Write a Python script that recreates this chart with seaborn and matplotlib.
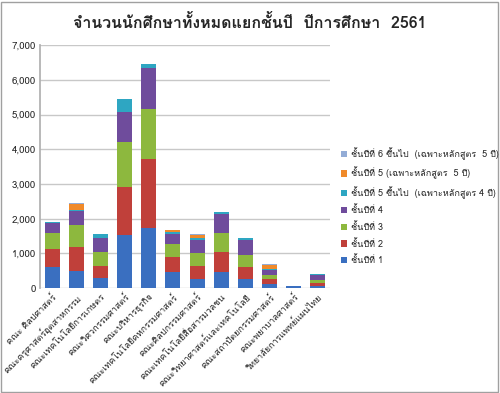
import matplotlib
matplotlib.use("Agg")
import matplotlib.pyplot as plt
from matplotlib import font_manager
from matplotlib.ft2font import FT2Font
from matplotlib.patches import Rectangle
import seaborn as sns
import pandas as pd
import numpy as np

categories = [
    "คณะ ศิลปศาสตร์",
    "คณะครุศาสตร์อุตสาหกรรม",
    "คณะเทคโนโลยีการเกษตร",
    "คณะวิศวกรรมศาสตร์",
    "คณะบริหารธุรกิจ",
    "คณะเทคโนโลยีคหกรรมศาสตร์",
    "คณะศิลปกรรมศาสตร์",
    "คณะเทคโนโลยีสื่อสารมวลชน",
    "คณะวิทยาศาสตร์และเทคโนโลยี",
    "คณะสถาปัตยกรรมศาสตร์",
    "คณะพยาบาลศาสตร์",
    "วิทยาลัยการแพทย์แผนไทย",
]

series_names = [
    "ชั้นปีที่ 1",
    "ชั้นปีที่ 2",
    "ชั้นปีที่ 3",
    "ชั้นปีที่ 4",
    "ชั้นปีที่ 5 ขึ้นไป  (เฉพาะหลักสูตร 4 ปี)",
    "ชั้นปีที่ 5 (เฉพาะหลักสูตร  5 ปี)",
    "ชั้นปีที่ 6 ขึ้นไป  (เฉพาะหลักสูตร  5 ปี)",
]

year1 = [600, 480, 300, 1540, 1730, 460, 270, 460, 270, 110, 50, 50]
year2 = [520, 710, 340, 1360, 2000, 440, 380, 590, 350, 140, 0, 90]
year3 = [470, 620, 390, 1320, 1440, 360, 350, 550, 330, 140, 0, 90]
year4 = [290, 410, 400, 850, 1160, 310, 380, 540, 430, 130, 0, 150]
year5_4yr = [30, 40, 140, 380, 120, 40, 50, 50, 50, 30, 0, 20]
year5_5yr = [0, 170, 0, 0, 0, 50, 100, 0, 0, 120, 0, 0]
year6_5yr = [0, 30, 0, 0, 0, 10, 20, 0, 0, 30, 0, 0]

colors = ["#3a6fc0", "#c0403a", "#8db83e", "#6f4c9c", "#2ea6c2", "#f08a2a", "#93acd6"]

# find a font with Thai glyphs
thai_fonts = []
for f in font_manager.fontManager.ttflist:
    try:
        cm = FT2Font(f.fname).get_charmap()
        if 0x0E01 in cm and 0x0E33 in cm:
            thai_fonts.append(f.name)
    except Exception:
        pass
thai_fonts = list(dict.fromkeys(thai_fonts))

sns.set_theme(style="white")
plt.rcParams["font.family"] = thai_fonts + ["DejaVu Sans"]

series = [year1, year2, year3, year4, year5_4yr, year5_5yr, year6_5yr]

fig = plt.figure(figsize=(5.0, 3.93), dpi=100)
ax = fig.add_axes([0.08, 0.267, 0.58, 0.618])

bottom = np.zeros(len(categories))
for name, vals, col in zip(series_names, series, colors):
    df = pd.DataFrame({"cat": categories, "val": vals})
    sns.barplot(data=df, x="cat", y="val", color=col, bottom=bottom, ax=ax,
                width=0.62, label=name, saturation=1, edgecolor="none")
    bottom = bottom + np.array(vals)

h, l = ax.get_legend_handles_labels()
if ax.get_legend() is not None:
    ax.get_legend().remove()

ax.set_ylim(0, 7000)
ax.set_yticks(range(0, 7001, 1000))
ax.set_yticklabels([f"{v:,}" for v in range(0, 7001, 1000)], fontsize=7)
ax.set_xlabel("")
ax.set_ylabel("")
ax.yaxis.grid(True, color="#c8c8c8", linewidth=1)
ax.set_axisbelow(True)
for s in ["top", "right", "bottom"]:
    ax.spines[s].set_visible(False)
ax.spines["left"].set_color("#b0b0b0")
ax.tick_params(axis="both", length=0, pad=3)
ax.set_xticks(range(len(categories)))
ax.set_xticklabels(categories, rotation=45, ha="right", rotation_mode="anchor", fontsize=6.5)

fig.legend(h[::-1], l[::-1], loc="center left", bbox_to_anchor=(0.665, 0.475),
           frameon=False, fontsize=6.5, handlelength=0.7, handleheight=0.7,
           handletextpad=0.4, labelspacing=0.75)

fig.suptitle("จำนวนนักศึกษาทั้งหมดแยกชั้นปี  ปีการศึกษา  2561", fontsize=11.5,
             fontweight="bold", y=0.965)

fig.patches.append(Rectangle((0.002, 0.002), 0.994, 0.994, transform=fig.transFigure,
                             fill=False, edgecolor="#a0a0a0", linewidth=1))

fig.savefig("out.png", dpi=100)
